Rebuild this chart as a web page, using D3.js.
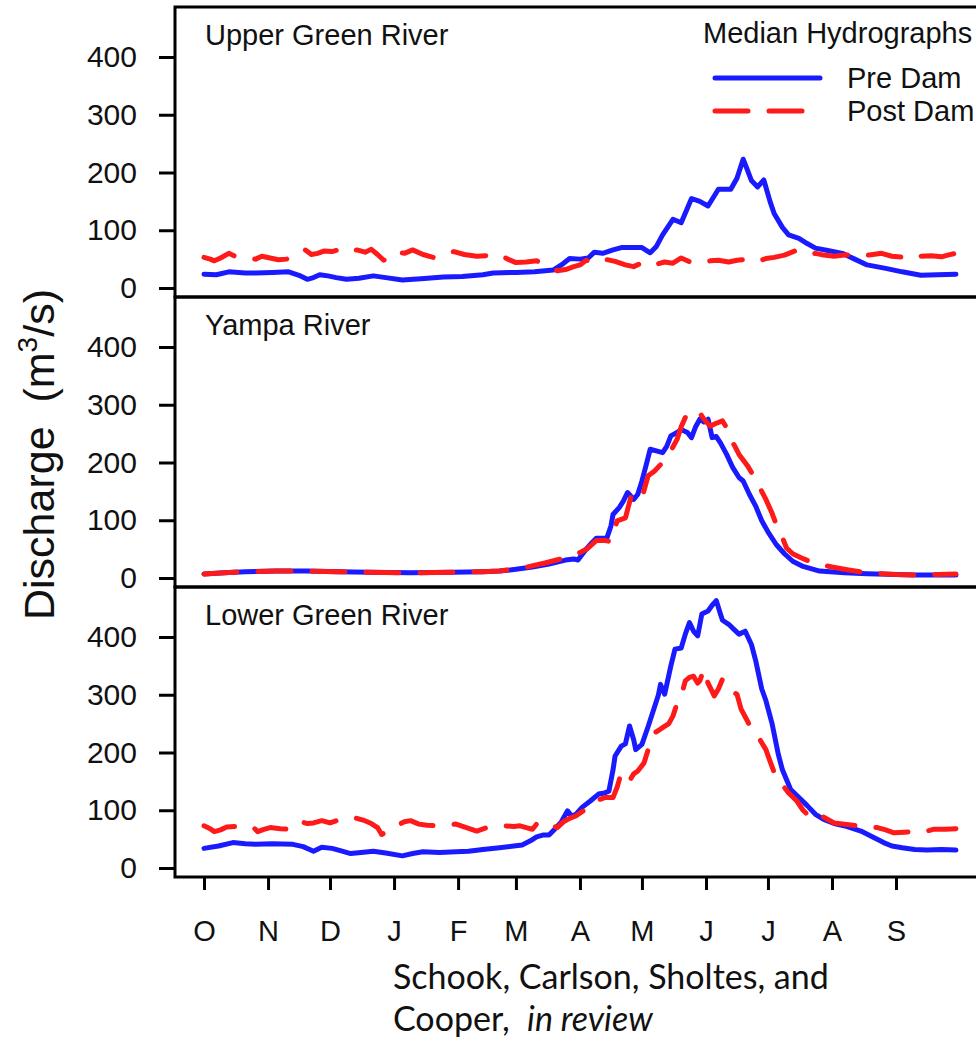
<!DOCTYPE html>
<html><head><meta charset="utf-8">
<script src="https://cdn.jsdelivr.net/npm/d3@7/dist/d3.min.js"></script>
<style>body{margin:0;background:#fff} svg{display:block}</style>
</head><body><svg id="c" width="976" height="1041"></svg>
<script>
// ---- data: [day of water year (0 = Oct 1), discharge m3/s] ----
const monthDays = [0,31,61,92,123,151,182,212,243,273,304,335];
const monthLabels = ["O","N","D","J","F","M","A","M","J","J","A","S"];
const yTicks = [0,100,200,300,400];
const panelNames = ["Upper Green River","Yampa River","Lower Green River"];
const seriesNames = ["Pre Dam","Post Dam"];

const upperPre = [[0,24],[6,23],[12,28],[20,26],[25,26],[33,27],[41,28],[46,22],[50,15],[53,18],[56,23],[60,21],[64,18],[69,15],[75,17],[82,21],[88,18],[96,14],[105,16],[116,19],[125,20],[135,23],[140,26],[151,27],[160,28],[169,31],[173,40],[177,51],[182,50],[186,52],[189,62],[193,60],[198,66],[202,70],[208,70],[212,70],[216,61],[219,72],[222,92],[227,119],[231,113],[236,155],[240,150],[244,142],[249,171],[255,171],[258,190],[261,223],[263,205],[265,186],[268,175],[271,187],[274,150],[276,129],[280,105],[283,92],[288,86],[292,77],[296,69],[302,65],[309,60],[315,50],[321,40],[330,34],[338,28],[347,22],[355,23],[364,24]];
const upperPost = [[0,53],[3,50],[5,47],[8,52],[12,60],[15,55],[20,53],[25,50],[28,55],[32,52],[36,49],[40,50],[44,58],[47,62],[49,66],[52,58],[55,60],[58,64],[62,63],[66,67],[70,62],[74,66],[78,62],[81,67],[84,58],[87,48],[90,55],[93,63],[97,60],[101,66],[106,58],[111,53],[116,60],[121,63],[126,58],[132,55],[137,56],[143,58],[147,50],[151,44],[156,45],[161,47],[166,38],[171,30],[175,32],[179,37],[182,40],[185,48],[189,44],[194,50],[199,46],[204,40],[208,37],[211,42],[214,37],[218,40],[223,45],[227,43],[231,52],[236,44],[241,45],[245,47],[249,48],[254,45],[258,48],[263,50],[268,46],[272,51],[276,53],[281,57],[286,64],[290,58],[296,60],[300,57],[305,55],[310,57],[316,58],[322,57],[328,60],[333,55],[339,53],[343,58],[347,55],[352,56],[357,54],[360,57],[364,60]];
const yampaPre = [[0,7],[10,9],[20,11],[35,12],[50,12],[65,11],[80,10],[100,9],[120,10],[135,11],[143,12],[151,15],[159,19],[167,24],[175,31],[179,33],[181,31],[185,50],[188,62],[190,69],[195,69],[197,90],[198,110],[201,122],[203,133],[205,148],[208,136],[210,145],[212,168],[214,195],[216,223],[219,220],[222,217],[224,228],[226,246],[229,252],[231,257],[234,252],[236,243],[238,262],[240,275],[242,270],[244,275],[246,243],[248,245],[250,234],[253,214],[256,191],[259,174],[261,168],[264,145],[267,125],[270,99],[273,80],[277,58],[281,42],[285,29],[290,20],[298,12],[310,9],[321,7.5],[335,6],[345,5],[355,5],[364,5]];
const yampaPost = [[0,7],[10,9],[20,11],[35,12],[50,12],[65,11],[80,10],[100,9],[120,10],[135,11],[143,12],[155,18],[165,26],[175,35],[182,44],[186,52],[190,65],[194,65],[197,63],[200,99],[204,104],[207,145],[209,140],[212,139],[215,177],[218,185],[222,200],[225,214],[229,240],[231,262],[233,278],[235,285],[236,289],[238,284],[240,286],[242,275],[245,263],[248,268],[251,272],[253,260],[254,246],[257,228],[259,214],[263,195],[266,177],[269,157],[272,136],[275,112],[277,93],[280,70],[282,52],[285,42],[289,35],[295,26],[304,19],[312,14],[321,9],[335,6],[345,5],[355,6],[364,7]];
const lowerPre = [[0,34],[7,38],[14,44],[20,42],[25,41],[33,42],[43,41],[48,37],[53,29],[57,36],[62,34],[66,30],[71,25],[76,27],[82,29],[88,26],[96,21],[101,25],[106,28],[114,27],[122,28],[128,29],[135,32],[143,35],[150,38],[154,40],[158,47],[161,54],[164,57],[167,57],[170,68],[173,80],[176,99],[178,90],[180,93],[183,105],[187,116],[191,128],[194,130],[196,133],[198,170],[199,194],[202,211],[204,215],[206,246],[208,222],[209,205],[212,214],[215,245],[218,278],[220,300],[221,318],[223,301],[226,350],[228,379],[231,381],[233,405],[235,425],[237,410],[239,402],[241,440],[244,445],[246,455],[248,463],[250,440],[251,429],[254,422],[256,415],[259,405],[262,410],[265,387],[267,360],[270,310],[272,290],[275,250],[278,197],[280,170],[284,136],[288,122],[292,108],[296,93],[300,84],[305,77],[311,72],[318,64],[323,55],[329,44],[333,38],[338,35],[344,32],[350,31],[357,32],[364,31]];
const lowerPost = [[0,73],[3,68],[5,63],[8,66],[11,71],[16,72],[21,73],[24,70],[26,63],[29,67],[32,70],[37,68],[42,67],[45,72],[47,80],[50,77],[53,78],[57,82],[61,78],[65,83],[68,85],[71,88],[74,86],[77,83],[81,77],[84,70],[86,58],[90,66],[93,73],[97,80],[100,82],[104,76],[108,74],[113,73],[118,75],[122,76],[127,70],[132,64],[137,70],[141,72],[145,73],[150,72],[153,73],[156,70],[159,67],[161,76],[164,81],[167,76],[171,70],[174,80],[177,86],[180,90],[184,100],[189,110],[191,118],[194,122],[198,122],[200,140],[202,165],[204,160],[206,151],[208,163],[210,168],[213,182],[215,205],[218,234],[220,238],[222,243],[225,250],[227,263],[229,285],[231,298],[233,324],[235,330],[237,332],[239,320],[240,324],[242,344],[244,320],[247,298],[249,310],[251,327],[253,315],[255,306],[258,301],[260,275],[263,255],[266,234],[269,223],[272,205],[274,185],[277,156],[280,144],[283,130],[287,116],[290,100],[292,93],[296,99],[300,88],[305,78],[310,76],[316,73],[321,71],[326,70],[330,66],[334,61],[339,62],[344,63],[348,62],[353,67],[359,67],[364,68]];

const preSeries = [upperPre, yampaPre, lowerPre];
const postSeries = [upperPost, yampaPost, lowerPost];

// ---- drawing ----
const FONT = "'Liberation Sans', Arial, Helvetica, sans-serif";
const BLUE = "#1a1aff", RED = "#ff1a1a";
const DASH = "33,21";
const svg = d3.select("#c");
const x = d3.scaleLinear().domain([0,365]).range([204,958]);
const frameL = 175, frameR = 992, panelH = 290;

panelNames.forEach((name, i) => {
  const top = 7 + i*panelH;
  const y = d3.scaleLinear().domain([0,400]).range([top+281, top+50]);
  const g = svg.append("g");

  const line = d3.line().x(d => x(d[0])).y(d => y(d[1]));
  g.append("path").datum(preSeries[i]).attr("d", line)
    .attr("fill","none").attr("stroke",BLUE).attr("stroke-width",5)
    .attr("stroke-linejoin","round").attr("stroke-linecap","round");
  g.append("path").datum(postSeries[i]).attr("d", line)
    .attr("fill","none").attr("stroke",RED).attr("stroke-width",5)
    .attr("stroke-dasharray",DASH)
    .attr("stroke-linejoin","round").attr("stroke-linecap","round");

  // y axis
  const ya = g.append("g").attr("transform",`translate(${frameL},0)`)
    .call(d3.axisLeft(y).tickValues(yTicks).tickSize(16).tickPadding(22));
  ya.select(".domain").remove();
  ya.selectAll(".tick line").attr("stroke","#000").attr("stroke-width",3);
  ya.selectAll(".tick text").attr("font-family",FONT).attr("font-size",30).attr("fill","#111");

  // frame
  g.append("rect").attr("x",frameL).attr("y",top).attr("width",frameR-frameL).attr("height",panelH)
    .attr("fill","none").attr("stroke","#000").attr("stroke-width",3);

  g.append("text").attr("x",205).attr("y",top+38).text(name)
    .attr("font-family",FONT).attr("font-size",29).attr("fill","#111");

  if (i === 2) {
    const xa = g.append("g").attr("transform",`translate(0,${top+panelH})`)
      .call(d3.axisBottom(x).tickValues(monthDays).tickFormat((d,k)=>monthLabels[k]).tickSize(13).tickPadding(30));
    xa.select(".domain").remove();
    xa.selectAll(".tick line").attr("stroke","#000").attr("stroke-width",3);
    xa.selectAll(".tick text").attr("font-family",FONT).attr("font-size",29).attr("fill","#111");
  }
});

// legend
const lg = svg.append("g").attr("font-family",FONT).attr("fill","#111").attr("font-size",29);
lg.append("text").attr("x",703).attr("y",43).text("Median Hydrographs");
lg.append("text").attr("x",847).attr("y",88).text(seriesNames[0]);
lg.append("text").attr("x",847).attr("y",121).text(seriesNames[1]);
lg.append("line").attr("x1",715).attr("x2",820).attr("y1",78).attr("y2",78)
  .attr("stroke",BLUE).attr("stroke-width",5).attr("stroke-linecap","round");
lg.append("line").attr("x1",715).attr("x2",806).attr("y1",111).attr("y2",111)
  .attr("stroke",RED).attr("stroke-width",5).attr("stroke-linecap","round").attr("stroke-dasharray",DASH);

// y title
const yt = svg.append("text").attr("transform","translate(54,620) rotate(-90)")
  .attr("font-family",FONT).attr("font-size",43).attr("fill","#111").style("white-space","pre");
yt.append("tspan").text("Discharge  (m");
yt.append("tspan").attr("font-size",28).attr("dy",-17).text("3");
yt.append("tspan").attr("dy",17).text("/s)");

// citation
const CF = "Lato, 'Open Sans', sans-serif";
svg.append("text").attr("x",393).attr("y",989).attr("font-family",CF).attr("font-size",34).attr("fill","#111")
  .text("Schook, Carlson, Sholtes, and");
const c2 = svg.append("text").attr("x",393).attr("y",1031).attr("font-family",CF).attr("font-size",34).attr("fill","#111").style("white-space","pre");
c2.append("tspan").text("Cooper,  ");
c2.append("tspan").attr("font-style","italic").text("in review");
</script></body></html>
